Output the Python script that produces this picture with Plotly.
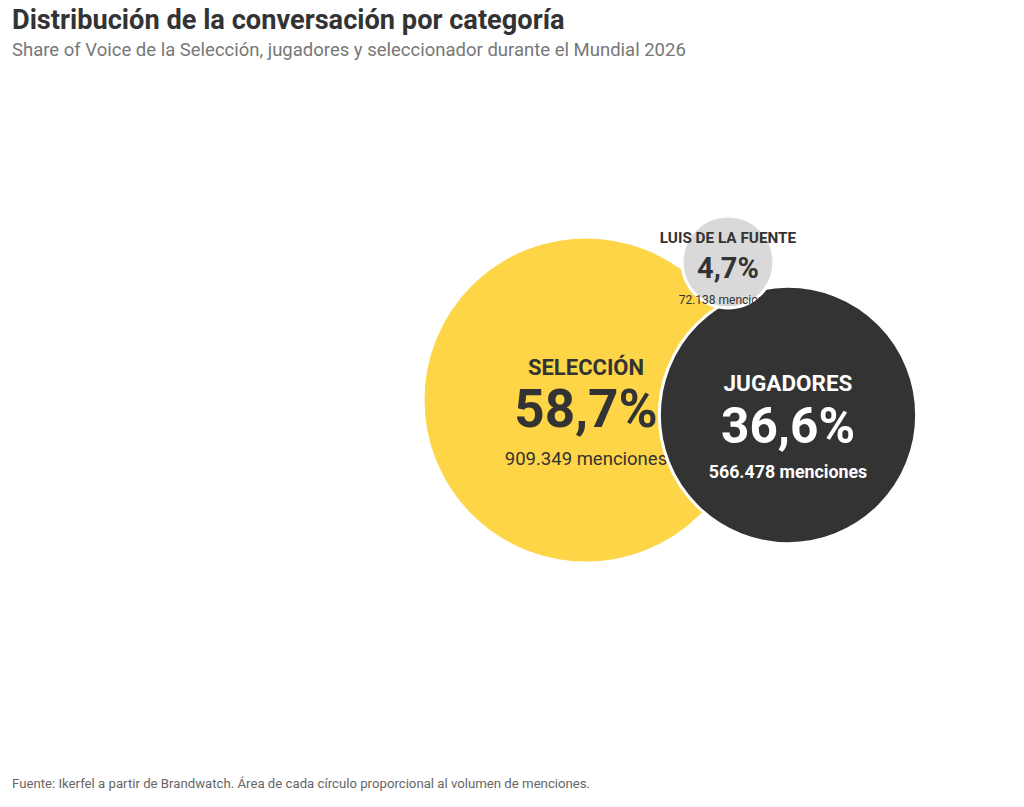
import plotly.graph_objects as go

# Data
categories = ["SELECCIÓN", "JUGADORES", "LUIS DE LA FUENTE"]
mentions = [909349, 566478, 72138]
shares = [58.7, 36.6, 4.7]

# Layout of the packed circles (pixel coordinates on a 1024x807 canvas)
centers_x = [586, 788, 728]
centers_y = [400, 415, 262]
R_MAX = 163

fill_colors = ["#FDD546", "#333333", "#D9D9D9"]
text_colors = ["#333333", "#FFFFFF", "#333333"]
small_colors = ["#333333", "#FFFFFF", "#333333"]
# font sizes: name, share, mentions
font_sizes = [(22, 53, 18.5), (22.5, 49.5, 17.8), (15.3, 29, 12)]
# vertical offsets of the three lines from the circle centre
offsets = [(-31, 14, 60), (-30, 16, 59), (-23, 9, 39)]
bold_count = [False, True, False]


def fmt_share(v):
    return f"{v:.1f}".replace(".", ",") + "%"


def fmt_mentions(v):
    return f"{v:,}".replace(",", ".") + " menciones"


fig = go.Figure()
vmax = max(mentions)

for i, cat in enumerate(categories):
    diameter = 2 * R_MAX * (mentions[i] / vmax) ** 0.5
    fig.add_trace(
        go.Scatter(
            x=[centers_x[i]],
            y=[centers_y[i]],
            mode="markers",
            marker=dict(
                size=diameter,
                color=fill_colors[i],
                line=dict(color="#FFFFFF", width=3),
                opacity=1,
            ),
            hoverinfo="skip",
            showlegend=False,
        )
    )
    count_txt = fmt_mentions(mentions[i])
    if bold_count[i]:
        count_txt = "<b>" + count_txt + "</b>"
    fig.add_trace(
        go.Scatter(
            x=[centers_x[i]] * 3,
            y=[centers_y[i] + o for o in offsets[i]],
            mode="text",
            text=["<b>" + cat + "</b>", "<b>" + fmt_share(shares[i]) + "</b>", count_txt],
            textposition="middle center",
            textfont=dict(
                family="Roboto",
                size=list(font_sizes[i]),
                color=[text_colors[i], text_colors[i], small_colors[i]],
            ),
            hoverinfo="skip",
            showlegend=False,
            cliponaxis=False,
        )
    )

fig.update_layout(
    width=1024,
    height=807,
    margin=dict(l=0, r=0, t=0, b=0),
    paper_bgcolor="#FFFFFF",
    plot_bgcolor="#FFFFFF",
    font=dict(family="Roboto", color="#333333"),
    xaxis=dict(range=[0, 1024], visible=False, fixedrange=True),
    yaxis=dict(range=[807, 0], visible=False, fixedrange=True),
    annotations=[
        dict(
            text="<b>Distribución de la conversación por categoría</b>",
            x=10 / 1024, y=1 - 20 / 807, xref="paper", yref="paper",
            xanchor="left", yanchor="middle", showarrow=False,
            font=dict(family="Roboto", size=27.2, color="#333333"),
        ),
        dict(
            text="Share of Voice de la Selección, jugadores y seleccionador durante el Mundial 2026",
            x=10 / 1024, y=1 - 50 / 807, xref="paper", yref="paper",
            xanchor="left", yanchor="middle", showarrow=False,
            font=dict(family="Roboto", size=18.5, color="#777777"),
        ),
        dict(
            text="Fuente: Ikerfel a partir de Brandwatch. Área de cada círculo proporcional al volumen de menciones.",
            x=10 / 1024, y=1 - 783 / 807, xref="paper", yref="paper",
            xanchor="left", yanchor="middle", showarrow=False,
            font=dict(family="Roboto", size=13.2, color="#666666"),
        ),
    ],
)

fig.write_html(
    "out.html",
    config={"displayModeBar": False},
    post_script="document.body.style.margin='0';",
)
